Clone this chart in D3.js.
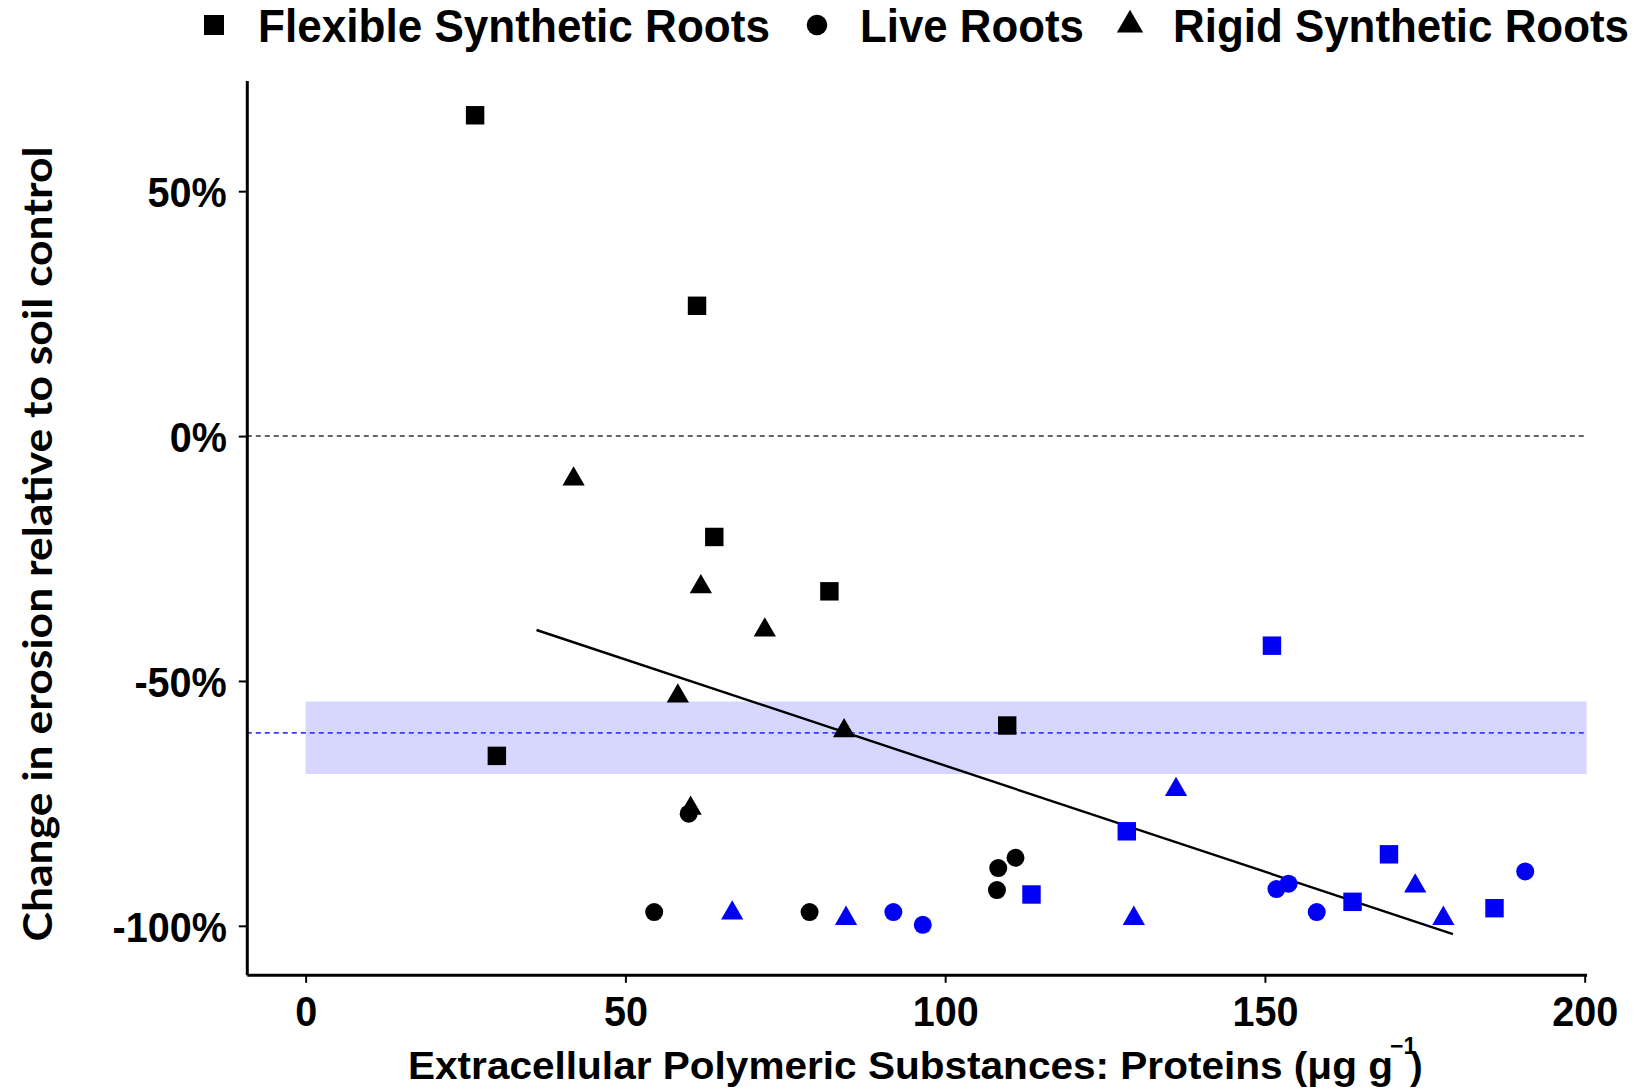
<!DOCTYPE html>
<html>
<head>
<meta charset="utf-8">
<script src="https://cdn.jsdelivr.net/npm/d3@7"></script>
<style>
  html, body { margin: 0; padding: 0; background: #fff; }
  svg { display: block; }
</style>
</head>
<body>
<svg id="chart" width="1640" height="1091"></svg>
<script>
// Root treatments and their EPS-protein / erosion-change measurements
const treatments = ["Flexible Synthetic Roots", "Live Roots", "Rigid Synthetic Roots"];
const shapes = { "Flexible Synthetic Roots": d3.symbolSquare, "Live Roots": d3.symbolCircle, "Rigid Synthetic Roots": d3.symbolTriangle };

// [proteins (µg/g), change in erosion (%)]
const flexibleBlack = [[26.5, 65.5], [61.2, 26.6], [63.9, -20.6], [81.9, -31.7], [29.9, -65.3], [109.7, -59.1]];
const flexibleBlue  = [[151.1, -42.8], [113.5, -93.6], [128.4, -80.7], [169.4, -85.4], [163.7, -95.1], [185.9, -96.4]];
const liveBlack     = [[59.9, -77.1], [54.5, -97.2], [78.8, -97.2], [108.3, -88.2], [111.0, -86.1], [108.1, -92.7]];
const liveBlue      = [[91.9, -97.2], [96.5, -99.8], [151.8, -92.5], [153.7, -91.4], [158.1, -97.2], [190.7, -88.9]];
const rigidBlack    = [[41.9, -8.8], [61.8, -30.8], [71.8, -39.6], [58.2, -53.1], [84.2, -60.2], [60.2, -76.0]];
const rigidBlue     = [[66.7, -97.4], [84.5, -98.5], [129.5, -98.5], [136.1, -72.2], [173.5, -91.9], [177.9, -98.5]];

// Fitted trend and reference band (mean and interval)
const trendLine = [[36.1, -39.6], [179.4, -101.7]];
const bandMean = -60.6;
const bandRange = [-69.0, -54.2];
const bandX = [0, 200.3];

const xTicks = [0, 50, 100, 150, 200];
const yTicks = [50, 0, -50, -100];

const svg = d3.select("#chart");
const boldFont = "'Liberation Sans', Arial, sans-serif";

// Squeeze a text node horizontally to a narrower, condensed look
function condense(sel, ratio) {
  sel.each(function () {
    const w = this.getComputedTextLength();
    d3.select(this).attr("textLength", w * ratio).attr("lengthAdjust", "spacingAndGlyphs");
  });
}

const x = d3.scaleLinear().domain([-9.2, 200.3]).range([246.8, 1586.6]);
const y = d3.scaleLinear().domain([-110, 72.6]).range([974.8, 80.5]);

// Reference band
svg.append("rect")
  .attr("x", x(bandX[0])).attr("width", x(bandX[1]) - x(bandX[0]))
  .attr("y", y(bandRange[1])).attr("height", y(bandRange[0]) - y(bandRange[1]))
  .attr("fill", "#0000ff").attr("fill-opacity", 0.16);

svg.append("line")
  .attr("x1", x.range()[0]).attr("x2", x(bandX[1]))
  .attr("y1", y(bandMean)).attr("y2", y(bandMean))
  .attr("stroke", "#3b3bff").attr("stroke-width", 1.6).attr("stroke-dasharray", "5,4");

// Zero line
svg.append("line")
  .attr("x1", x.range()[0]).attr("x2", x(bandX[1]))
  .attr("y1", y(0)).attr("y2", y(0))
  .attr("stroke", "#333").attr("stroke-width", 1.6).attr("stroke-dasharray", "5,4");

// Trend line
svg.append("path")
  .attr("d", d3.line().x(d => x(d[0])).y(d => y(d[1]))(trendLine))
  .attr("fill", "none").attr("stroke", "#000").attr("stroke-width", 2.4);

// Points
const sizes = { "Flexible Synthetic Roots": 340, "Live Roots": 255, "Rigid Synthetic Roots": 215 };
const series = [
  { t: "Flexible Synthetic Roots", c: "#000", data: flexibleBlack },
  { t: "Flexible Synthetic Roots", c: "#0000f5", data: flexibleBlue },
  { t: "Live Roots", c: "#000", data: liveBlack },
  { t: "Live Roots", c: "#0000f5", data: liveBlue },
  { t: "Rigid Synthetic Roots", c: "#000", data: rigidBlack },
  { t: "Rigid Synthetic Roots", c: "#0000f5", data: rigidBlue }
];
series.forEach(s => {
  const sym = d3.symbol().type(shapes[s.t]).size(sizes[s.t]);
  svg.append("g").selectAll("path").data(s.data).join("path")
    .attr("transform", d => `translate(${x(d[0])},${y(d[1])})`)
    .attr("d", sym)
    .attr("fill", s.c);
});

// Axes
const xAxis = svg.append("g").attr("transform", `translate(0,${y.range()[0]})`)
  .call(d3.axisBottom(x).tickValues(xTicks).tickSize(8).tickPadding(13).tickSizeOuter(0));
const yAxis = svg.append("g").attr("transform", `translate(${x.range()[0]},0)`)
  .call(d3.axisLeft(y).tickValues(yTicks).tickSize(8).tickPadding(12).tickSizeOuter(0)
    .tickFormat(d => d + "%"));

[xAxis, yAxis].forEach(g => {
  g.select(".domain").attr("stroke", "#000").attr("stroke-width", 3);
  g.selectAll(".tick line").attr("stroke", "#000").attr("stroke-width", 2);
  g.selectAll(".tick text")
    .attr("fill", "#000")
    .style("font-family", boldFont)
    .style("font-weight", "bold")
    .style("font-size", "43px")
    .call(condense, 0.92);
});
yAxis.selectAll(".tick text").attr("dy", "0.36em");

// Axis titles
svg.append("text")
  .attr("x", 408).attr("y", 1079)
  .attr("textLength", 985).attr("lengthAdjust", "spacingAndGlyphs")
  .style("font-family", boldFont).style("font-weight", "bold").style("font-size", "38px")
  .text("Extracellular Polymeric Substances: Proteins (\u03bcg g");
svg.append("text")
  .attr("x", 1390).attr("y", 1054)
  .style("font-family", boldFont).style("font-weight", "bold").style("font-size", "23px")
  .text("\u22121");
svg.append("text")
  .attr("x", 1410).attr("y", 1079)
  .style("font-family", boldFont).style("font-weight", "bold").style("font-size", "38px")
  .text(")");

svg.append("text")
  .attr("transform", "translate(52,544) rotate(-90)")
  .attr("text-anchor", "middle")
  .attr("textLength", 795).attr("lengthAdjust", "spacingAndGlyphs")
  .style("font-family", "Lato, 'Open Sans', sans-serif").style("font-weight", "bold").style("font-size", "40px")
  .text("Change in erosion relative to soil control");

// Legend
const legendItems = [
  { t: treatments[0], sx: 214, tx: 258, w: 512, size: 400 },
  { t: treatments[1], sx: 817, tx: 860, w: 224, size: 330 },
  { t: treatments[2], sx: 1130, tx: 1173, w: 456, size: 300 }
];
const legend = svg.append("g");
legendItems.forEach(it => {
  legend.append("path")
    .attr("transform", `translate(${it.sx},25)`)
    .attr("d", d3.symbol().type(shapes[it.t]).size(it.size))
    .attr("fill", "#000");
  legend.append("text")
    .attr("x", it.tx).attr("y", 42)
    .attr("textLength", it.w).attr("lengthAdjust", "spacingAndGlyphs")
    .style("font-family", boldFont).style("font-weight", "bold").style("font-size", "46px")
    .text(it.t);
});
</script>
</body>
</html>
